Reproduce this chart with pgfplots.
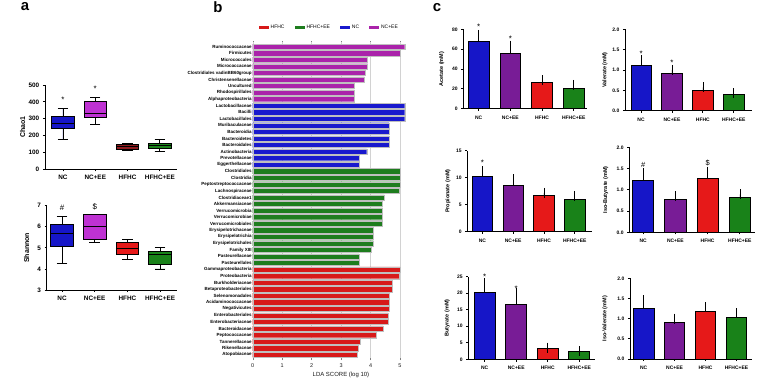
\documentclass[border=0pt]{standalone}
\usepackage{fontspec}
\setmainfont{Liberation Sans}
\usepackage{pgfplots}
\pgfplotsset{compat=1.18}
\usepgfplotslibrary{statistics}
\newcommand\fs[1]{\fontsize{#1}{#1}\selectfont}
\definecolor{ncB}{RGB}{22,22,200}
\definecolor{nceeP}{RGB}{120,28,150}
\definecolor{hfR}{RGB}{230,25,25}
\definecolor{hfeG}{RGB}{25,130,25}
\definecolor{nceeM}{RGB}{190,50,210}
\definecolor{hfDR}{RGB}{145,28,32}
\definecolor{ldaR}{RGB}{215,25,25}
\definecolor{ldaG}{RGB}{30,125,30}
\definecolor{ldaB}{RGB}{25,25,205}
\definecolor{ldaP}{RGB}{170,35,170}
\pgfplotsset{
  gp/.style={scale only axis, anchor=south west, axis lines*=left,
    axis line style={line width=0.8bp, black},
    every tick/.style={black, line width=0.8bp}, major tick length=2.2bp,
    tick align=outside, xtick={0,1,2,3}, xticklabels={NC,NC+EE,HFHC,HFHC+EE},
    ymin=0, clip=false, /pgf/number format/assume math mode=true,
    tick label style={font=\bfseries\fs{5}},
    ylabel style={font=\bfseries\fs{5.5}, at={(axis description cs:#1,0.5)}, anchor=center}},
  cbar/.style={ybar, bar width=0.66, bar shift=0pt, fill=#1, draw=black, line width=0.7bp,
    error bars/y dir=plus, error bars/y explicit,
    error bars/error bar style={line width=0.7bp, black},
    error bars/error mark options={black, line width=0.7bp, mark size=5bp}},
  bx/.style={fill=#1, draw=black, line width=0.8bp},
  dec1/.style={yticklabel style={/pgf/number format/.cd, fixed, fixed zerofill, precision=1}},
}
\begin{document}
\begin{tikzpicture}
\useasboundingbox (0bp,0bp) rectangle (775bp,392bp);
\node[font=\bfseries\fs{15}] at (25bp,385bp) {a};
\node[font=\bfseries\fs{15}] at (218bp,385bp) {b};
\node[font=\bfseries\fs{15}] at (437bp,384bp) {c};

% ---------- Chao1
\begin{axis}[gp={-0.169}, at={(45bp,222.7bp)}, width=132bp, height=84.3bp,
  boxplot/draw direction=y,
  xmin=-0.557, xmax=3.53, ymin=0, ymax=500, ytick={0,100,...,500}, ylabel={Chao1},
  tick label style={font=\bfseries\fs{6.4}}, ylabel style={font=\bfseries\fs{7}}]
\addplot[bx=ncB, boxplot prepared={draw position=0, lower whisker=178, lower quartile=240, median=272, upper quartile=315, upper whisker=360, box extend=0.7, whisker extend=0.32}] coordinates {};
\addplot[bx=nceeM, boxplot prepared={draw position=1, lower whisker=265, lower quartile=305, median=330, upper quartile=405, upper whisker=425, box extend=0.7, whisker extend=0.32}] coordinates {};
\addplot[bx=hfDR, boxplot prepared={draw position=2, lower whisker=110, lower quartile=120, median=135, upper quartile=150, upper whisker=155, box extend=0.7, whisker extend=0.32}] coordinates {};
\addplot[bx=hfeG, boxplot prepared={draw position=3, lower whisker=108, lower quartile=122, median=140, upper quartile=155, upper whisker=178, box extend=0.7, whisker extend=0.32}] coordinates {};
\node[font=\fs{8}] at (axis cs:0,412) {*};
\node[font=\fs{8}] at (axis cs:1,477) {*};
\end{axis}

% ---------- Shannon
\begin{axis}[gp={-0.154}, at={(46.7bp,102bp)}, width=130bp, height=84.3bp,
  boxplot/draw direction=y,
  xmin=-0.47, xmax=3.51, ymin=3, ymax=7, ytick={3,4,5,6,7}, ylabel={Shannon},
  tick label style={font=\bfseries\fs{6.4}}, ylabel style={font=\bfseries\fs{7}}]
\addplot[bx=ncB, boxplot prepared={draw position=0, lower whisker=4.27, lower quartile=5.05, median=5.68, upper quartile=6.13, upper whisker=6.48, box extend=0.7, whisker extend=0.32}] coordinates {};
\addplot[bx=nceeM, boxplot prepared={draw position=1, lower whisker=5.27, lower quartile=5.42, median=6.03, upper quartile=6.58, upper whisker=6.6, box extend=0.7, whisker extend=0.32}] coordinates {};
\addplot[bx=hfR, boxplot prepared={draw position=2, lower whisker=4.43, lower quartile=4.7, median=4.98, upper quartile=5.25, upper whisker=5.39, box extend=0.7, whisker extend=0.32}] coordinates {};
\addplot[bx=hfeG, boxplot prepared={draw position=3, lower whisker=4.0, lower quartile=4.2, median=4.67, upper quartile=4.82, upper whisker=5.02, box extend=0.7, whisker extend=0.32}] coordinates {};
\node[font=\fs{8}] at (axis cs:0,6.88) {\#};
\node[font=\fs{8}] at (axis cs:1,6.95) {\$};
\end{axis}

% ---------- LDA
\begin{axis}[scale only axis, anchor=south west, at={(252.7bp,32bp)}, width=153.2bp, height=319bp,
  xmin=0, xmax=5.2, ymin=-0.81, ymax=47.87, axis line style={draw=none},
  xtick={0,1,2,3,4,5}, xmajorgrids, grid style={gray!35, line width=0.4bp},
  xtick pos=both, x tick style={gray, line width=0.4bp}, major tick length=1.5bp,
  ytick={0,...,47}, y tick style={draw=none},
  yticklabels={Atopobiaceae,Rikenellaceae,Tannerellaceae,Peptococcaceae,Bacteroidaceae,Enterobacteriaceae,Enterobacteriales,Negativicutes,Acidaminococcaceae,Selenomonadales,Betaproteobacteriales,Burkholderiaceae,Proteobacteria,Gammaproteobacteria,
    Pasteurellales,Pasteurellaceae,Family XIII,Erysipelotrichales,Erysipelotrichia,Erysipelotrichaceae,Verrucomicrobiales,Verrucomicrobiae,Verrucomicrobia,Akkermansiaceae,Clostridiaceae1,Lachnospiraceae,Peptostreptococcaceae,Clostridia,Clostridiales,
    Eggerthellaceae,Prevotellaceae,Actinobacteria,Bacteroidales,Bacteroidetes,Bacteroidia,Muribaculaceae,Lactobacillales,Bacilli,Lactobacillaceae,
    Alphaproteobacteria,Rhodospirillales,Uncultured,Christensenellaceae,Clostridiales vadinBB60group,Micrococcaceae,Micrococcales,Firmicutes,Ruminococcaceae},
  yticklabel style={font=\bfseries\fs{4.5}, inner xsep=0.8bp},
  xticklabel style={font=\fs{5.5}, text=gray!20!black},
  xlabel={LDA SCORE (log 10)},
  xlabel style={font=\fs{6}, text=gray!20!black, at={(axis description cs:0.576,-0.028)}, anchor=north},
  clip=false, /pgf/number format/assume math mode=true,
  legend columns=4,
  legend style={at={(0.5,1)}, anchor=south, yshift=7bp, draw=none, fill=none, font=\fs{5},
    /tikz/every even column/.append style={column sep=8bp}},
  legend image code/.code={\fill[#1, draw=none] (0bp,-1.8bp) rectangle (10bp,1.8bp);}]
\addplot[xbar, bar width=0.8, bar shift=0pt, fill=ldaR, draw=gray!50, line width=0.3bp] coordinates {
 (3.55,0) (3.57,1) (3.65,2) (4.19,3) (4.43,4) (4.60,5) (4.60,6) (4.62,7) (4.62,8) (4.63,9) (4.75,10) (4.75,11) (4.98,12) (5.00,13)};
\addplot[xbar, bar width=0.8, bar shift=0pt, fill=ldaG, draw=gray!50, line width=0.3bp] coordinates {
 (3.60,14) (3.60,15) (4.02,16) (4.10,17) (4.10,18) (4.10,19) (4.41,20) (4.41,21) (4.41,22) (4.41,23) (4.47,24) (4.98,25) (5.00,26) (5.02,27) (5.02,28)};
\addplot[xbar, bar width=0.8, bar shift=0pt, fill=ldaB, draw=gray!50, line width=0.3bp] coordinates {
 (3.60,29) (3.62,30) (3.87,31) (4.62,32) (4.62,33) (4.62,34) (4.63,35) (5.16,36) (5.16,37) (5.16,38)};
\addplot[xbar, bar width=0.8, bar shift=0pt, fill=ldaP, draw=gray!50, line width=0.3bp] coordinates {
 (3.45,39) (3.45,40) (3.45,41) (3.79,42) (3.83,43) (3.90,44) (3.90,45) (5.02,46) (5.16,47)};
\legend{HFHC,HFHC+EE,NC,NC+EE}
\end{axis}

% ---------- Acetate
\begin{axis}[gp={-0.175}, at={(463.3bp,283.3bp)}, width=123.4bp, height=79.4bp,
  xmin=-0.486, xmax=3.41, ymax=80, ytick={0,20,...,80}, ylabel={Acetate (mM)},
  xticklabel style={yshift=-1.5bp}]
\addplot[cbar=ncB] coordinates {(0,68) +- (0,6.5)};
\addplot[cbar=nceeP] coordinates {(1,55.5) +- (0,8)};
\addplot[cbar=hfR] coordinates {(2,26.5) +- (0,2)};
\addplot[cbar=hfeG] coordinates {(3,21) +- (0,3)};
\node[font=\fs{8}] at (axis cs:0,82.8) {*};
\node[font=\fs{8}] at (axis cs:1,70) {*};
\end{axis}

% ---------- Valerate
\begin{axis}[gp={-0.158}, dec1, at={(625bp,281.3bp)}, width=126.7bp, height=81.4bp,
  xmin=-0.52, xmax=3.58, ymax=2, ytick={0,0.5,1,1.5,2}, ylabel={Valerate (mM)},
  xticklabel style={yshift=-1.5bp}]
\addplot[cbar=ncB] coordinates {(0,1.12) +- (0,0.12)};
\addplot[cbar=nceeP] coordinates {(1,0.91) +- (0,0.09)};
\addplot[cbar=hfR] coordinates {(2,0.51) +- (0,0.06)};
\addplot[cbar=hfeG] coordinates {(3,0.41) +- (0,0.02)};
\node[font=\fs{8}] at (axis cs:0,1.40) {*};
\node[font=\fs{8}] at (axis cs:1,1.18) {*};
\end{axis}

% ---------- Propionate
\begin{axis}[gp={-0.155}, at={(467.3bp,160.3bp)}, width=124.4bp, height=81bp,
  xmin=-0.49, xmax=3.55, ymax=15, ytick={0,5,10,15}, ylabel={Propionate (mM)},
  xticklabel style={yshift=-1.5bp}]
\addplot[cbar=ncB] coordinates {(0,10.3) +- (0,0.9)};
\addplot[cbar=nceeP] coordinates {(1,8.5) +- (0,1.2)};
\addplot[cbar=hfR] coordinates {(2,6.75) +- (0,0.45)};
\addplot[cbar=hfeG] coordinates {(3,6.05) +- (0,0.6)};
\node[font=\fs{8}] at (axis cs:0,12.7) {*};
\end{axis}

% ---------- Iso-Butyrate
\begin{axis}[gp={-0.188}, dec1, at={(629.3bp,159.7bp)}, width=125.7bp, height=85bp,
  xmin=-0.43, xmax=3.47, ymax=2, ytick={0,0.5,1,1.5,2}, ylabel={Iso-Butyrate (mM)},
  xticklabel style={yshift=-1.5bp}]
\addplot[cbar=ncB] coordinates {(0,1.22) +- (0,0.17)};
\addplot[cbar=nceeP] coordinates {(1,0.78) +- (0,0.07)};
\addplot[cbar=hfR] coordinates {(2,1.27) +- (0,0.16)};
\addplot[cbar=hfeG] coordinates {(3,0.83) +- (0,0.06)};
\node[font=\fs{7.5}] at (axis cs:0,1.58) {\#};
\node[font=\fs{7.5}] at (axis cs:2,1.62) {\$};
\end{axis}

% ---------- Butyrate
\begin{axis}[gp={-0.166}, at={(468.3bp,32.7bp)}, width=126.7bp, height=82.6bp,
  xmin=-0.52, xmax=3.50, ymax=25, ytick={0,5,...,25}, ylabel={Butyrate (mM)},
  xticklabel style={yshift=-1.5bp}]
\addplot[cbar=ncB] coordinates {(0,20.2) +- (0,2.8)};
\addplot[cbar=nceeP] coordinates {(1,16.6) +- (0,3.5)};
\addplot[cbar=hfR] coordinates {(2,3.3) +- (0,0.2)};
\addplot[cbar=hfeG] coordinates {(3,2.3) +- (0,0.2)};
\node[font=\fs{8}] at (axis cs:0,25.06) {*};
\node[font=\fs{8}] at (axis cs:1,21.5) {*};
\end{axis}

% ---------- Iso-Valerate
\begin{axis}[gp={-0.205}, dec1, at={(630bp,33bp)}, width=121.7bp, height=80.7bp,
  xmin=-0.44, xmax=3.49, ymax=2, ytick={0,0.5,1,1.5,2}, ylabel={Iso-Valerate (mM)},
  xticklabel style={yshift=-1.5bp}]
\addplot[cbar=ncB] coordinates {(0,1.26) +- (0,0.2)};
\addplot[cbar=nceeP] coordinates {(1,0.91) +- (0,0.09)};
\addplot[cbar=hfR] coordinates {(2,1.19) +- (0,0.09)};
\addplot[cbar=hfeG] coordinates {(3,1.04) +- (0,0.09)};
\end{axis}
\end{tikzpicture}
\end{document}
